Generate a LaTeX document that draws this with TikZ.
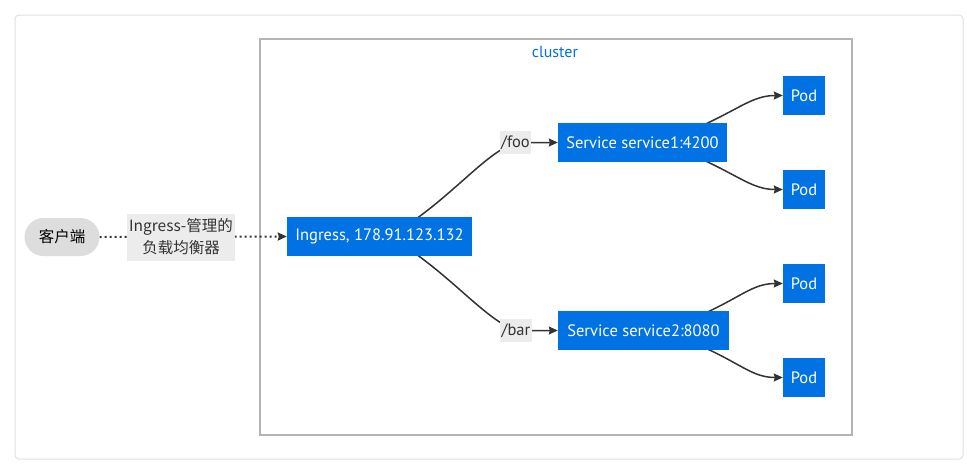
\documentclass[tikz,border=0pt]{standalone}
\usepackage{fontspec}
\setmainfont{PT Sans}
\newfontfamily\cjk{Noto Sans CJK SC}
\usetikzlibrary{arrows.meta,backgrounds}
\definecolor{k8sblue}{RGB}{0,114,227}
\definecolor{framegray}{RGB}{221,226,231}
\definecolor{clustergray}{RGB}{180,180,180}
\definecolor{clientgray}{RGB}{221,221,221}
\definecolor{labelbg}{RGB}{236,236,236}
\definecolor{edgeink}{RGB}{51,51,51}
\tikzset{
  box/.style={draw=none,fill=k8sblue,text=white,minimum height=39pt,inner sep=0pt,font=\fontsize{16.5}{19}\selectfont},
  podbox/.style={box,minimum width=42pt},
  tag/.style={fill=labelbg,text=edgeink,inner sep=1.5pt,font=\fontsize{16.5}{19}\selectfont},
  flow/.style={draw=edgeink,line width=1.5pt,-{Stealth[length=9pt,width=8pt,inset=1pt]}},
}
\begin{document}
\begin{tikzpicture}[x=1pt,y=-1pt]
\useasboundingbox (0,0) rectangle (967,467);
\node[text=k8sblue,font=\fontsize{16}{19}\selectfont] (clusterlbl) at (555,52) {cluster};

% nodes
\node[fill=clientgray,rounded corners=19pt,minimum width=75pt,minimum height=38pt,inner sep=0pt,font=\cjk\fontsize{15.5}{18}\selectfont] (client) at (62,237) {客户端};
\node[box,minimum width=185pt] (ing) at (379.5,236.5) {Ingress, 178.91.123.132};
\node[box,minimum width=169pt] (s1) at (642.5,142.5) {Service service1:4200};
\node[box,minimum width=171pt] (s2) at (643.5,330.5) {Service service2:8080};
\node[podbox] (p1) at (804,95.5) {Pod};
\node[podbox] (p2) at (804,189.5) {Pod};
\node[podbox] (p3) at (804,283.5) {Pod};
\node[podbox] (p4) at (804,377.5) {Pod};

% edge labels
\node[tag,minimum width=31pt,minimum height=23pt] (foo) at (515.5,142.5) {/foo};
\node[tag,minimum width=32pt,minimum height=23pt] (bar) at (516,330.5) {/bar};
\node[fill=labelbg,text=edgeink,minimum width=108pt,minimum height=47pt,inner sep=0pt,align=center,font=\cjk\fontsize{15.5}{22}\selectfont] (lb) at (181,237) {Ingress-管理的\\负载均衡器};

\begin{pgfonlayer}{background}
  % page, outer frame and cluster boundary
  \fill[white] (0,0) rectangle (967,467);
  \draw[framegray,line width=1pt,rounded corners=4pt] (15,15) rectangle (963,459);
  \draw[clustergray,line width=2pt] (260,39) rectangle (852,435);
  % client to ingress through the load balancer
  \draw[flow,line width=2pt,dash pattern=on 2pt off 3pt] (client.east) -- (ing.west);
  % ingress to services
  \draw[flow] ([xshift=34pt,yshift=-4pt]ing.north) .. controls +(45,-32) and +(-28,10) .. (foo.center) -- (s1.west);
  \draw[flow] ([xshift=34pt,yshift=4pt]ing.south) .. controls +(45,32) and +(-28,-10) .. (bar.center) -- (s2.west);
  % services to pods
  \draw[flow] ([xshift=57pt,yshift=-4pt]s1.north) .. controls +(40,-18) and +(-30,0) .. (p1.west);
  \draw[flow] ([xshift=57pt,yshift=4pt]s1.south) .. controls +(40,18) and +(-30,0) .. (p2.west);
  \draw[flow] ([xshift=58pt,yshift=-4pt]s2.north) .. controls +(40,-18) and +(-30,0) .. (p3.west);
  \draw[flow] ([xshift=58pt,yshift=4pt]s2.south) .. controls +(40,18) and +(-30,0) .. (p4.west);
\end{pgfonlayer}
\end{tikzpicture}
\end{document}
